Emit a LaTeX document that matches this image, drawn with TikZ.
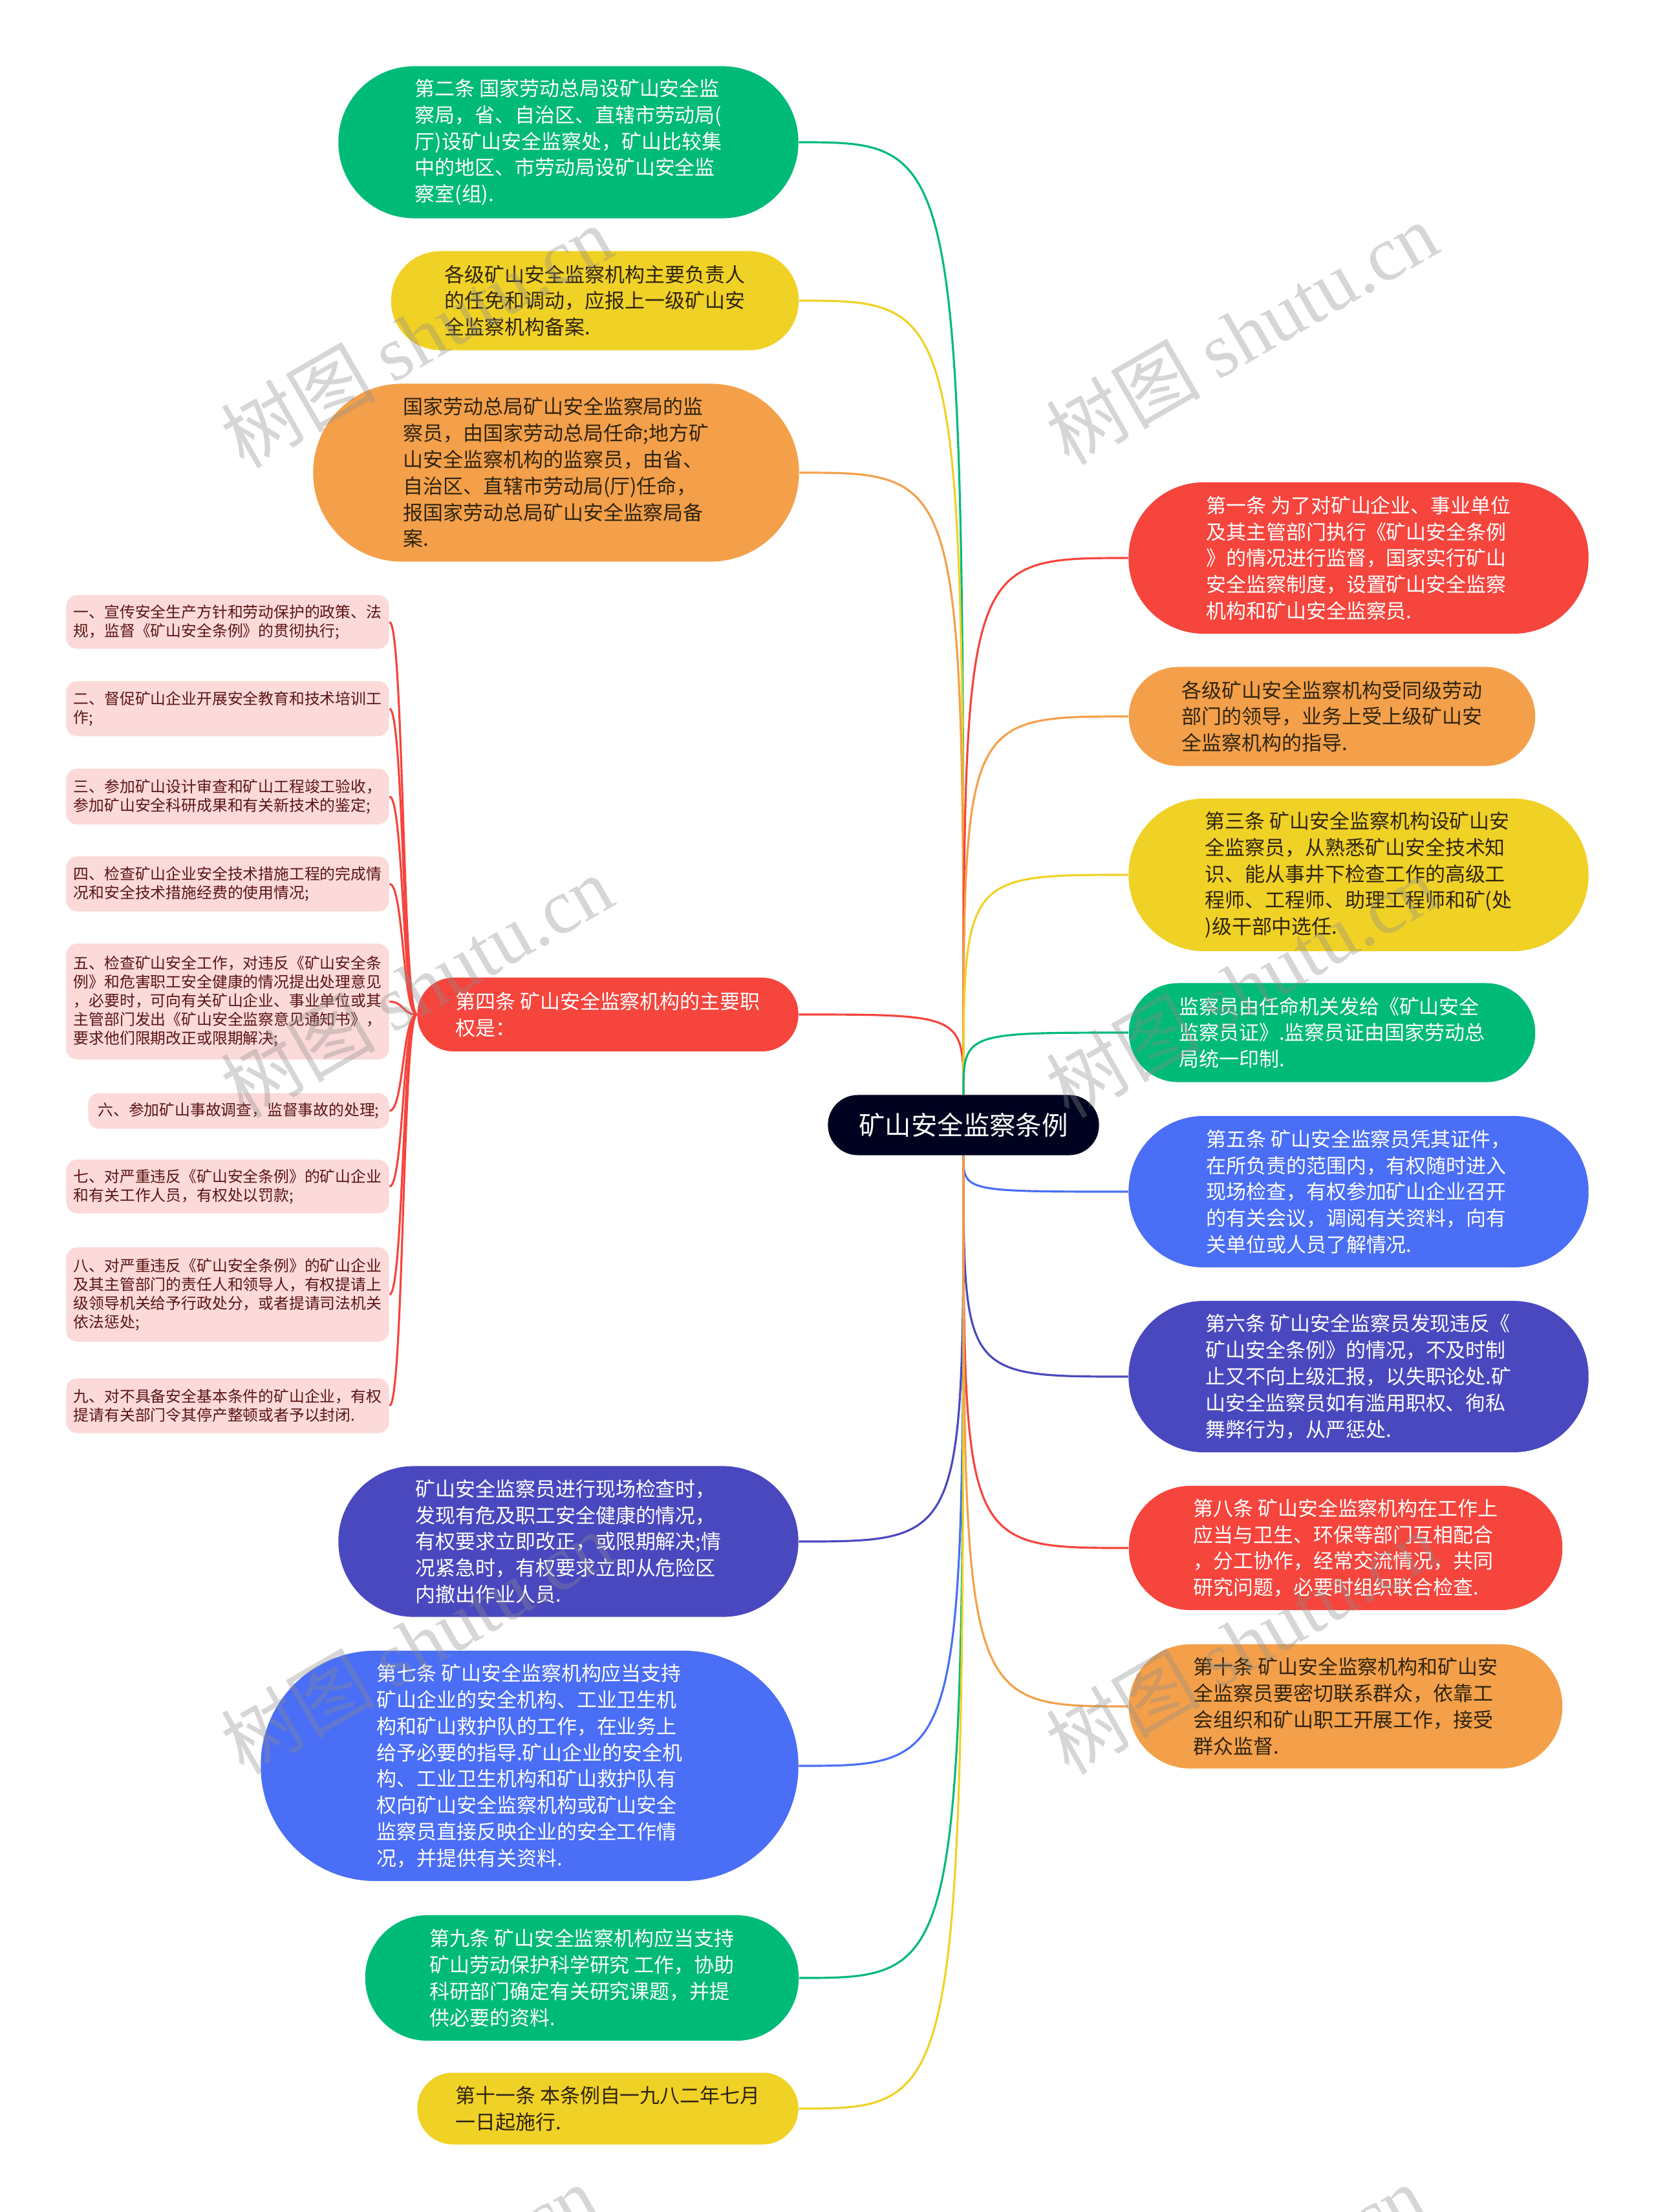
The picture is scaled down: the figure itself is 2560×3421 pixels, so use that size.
\documentclass[tikz,border=0pt]{standalone}
\usepackage{fontspec}
\setmainfont{Noto Sans CJK SC}
\newfontfamily\wmlatin{Liberation Serif}
\usetikzlibrary{backgrounds}
\definecolor{cgreen}{HTML}{00BA78}
\definecolor{cyellow}{HTML}{F0D126}
\definecolor{corange}{HTML}{F4A04A}
\definecolor{cred}{HTML}{F5453D}
\definecolor{cblue}{HTML}{4A6EF5}
\definecolor{cpurple}{HTML}{4A48BF}
\definecolor{ccenter}{HTML}{00031F}
\definecolor{cpink}{HTML}{FCDADA}
\definecolor{cpinktext}{HTML}{5B1414}
\definecolor{cdark}{HTML}{2E2410}
\tikzset{
  topic/.style={inner sep=0pt, align=left, font=\fontsize{8.8pt}{11.6pt}\selectfont},
  subitem/.style={fill=cpink, text=cpinktext, rounded corners=0.17cm, inner sep=0pt, align=left,
    font=\fontsize{6.77pt}{8.25pt}\selectfont},
  link/.style={line width=0.9pt},
  wm/.style={rotate=30, text=black!45, opacity=0.35, inner sep=0pt, font=\fontsize{34pt}{36pt}\selectfont},
}
\begin{document}
\begin{tikzpicture}[x=0.01cm, y=-0.01cm]
\useasboundingbox (0,0) rectangle (2560,3421);

% centre
\node[fill=ccenter, text=white, rounded corners=0.46cm, minimum width=4.19cm, minimum height=0.93cm,
  inner sep=0pt, font=\fontsize{11.5pt}{13pt}\selectfont] (C) at (1490,1740) {矿山安全监察条例};

% left topics
\node[topic, fill=cgreen, text=white, minimum width=7.11cm, minimum height=2.35cm, rounded corners=1.17cm] (L1) at (879,220)
 {第二条 国家劳动总局设矿山安全监\\察局，省、自治区、直辖市劳动局(\\厅)设矿山安全监察处，矿山比较集\\中的地区、市劳动局设矿山安全监\\察室(组).};
\node[topic, fill=cyellow, text=cdark, minimum width=6.30cm, minimum height=1.53cm, rounded corners=0.76cm] (L2) at (920,465)
 {各级矿山安全监察机构主要负责人\\的任免和调动，应报上一级矿山安\\全监察机构备案.};
\node[topic, fill=corange, text=cdark, minimum width=7.51cm, minimum height=2.75cm, rounded corners=1.37cm] (L3) at (860,731)
 {国家劳动总局矿山安全监察局的监\\察员，由国家劳动总局任命;地方矿\\山安全监察机构的监察员，由省、\\自治区、直辖市劳动局(厅)任命，\\报国家劳动总局矿山安全监察局备\\案.};
\node[topic, fill=cred, text=white, minimum width=5.89cm, minimum height=1.14cm, rounded corners=0.56cm] (L4) at (940,1569)
 {第四条 矿山安全监察机构的主要职\\权是：};
\node[topic, fill=cpurple, text=white, minimum width=7.11cm, minimum height=2.33cm, rounded corners=1.16cm] (L5) at (879,2384)
 {矿山安全监察员进行现场检查时，\\发现有危及职工安全健康的情况，\\有权要求立即改正，或限期解决;情\\况紧急时，有权要求立即从危险区\\内撤出作业人员.};
\node[topic, fill=cblue, text=white, minimum width=8.31cm, minimum height=3.56cm, rounded corners=1.77cm] (L6) at (819,2731)
 {第七条 矿山安全监察机构应当支持\\矿山企业的安全机构、工业卫生机\\构和矿山救护队的工作，在业务上\\给予必要的指导.矿山企业的安全机\\构、工业卫生机构和矿山救护队有\\权向矿山安全监察机构或矿山安全\\监察员直接反映企业的安全工作情\\况，并提供有关资料.};
\node[topic, fill=cgreen, text=white, minimum width=6.70cm, minimum height=1.94cm, rounded corners=0.96cm] (L7) at (900,3059)
 {第九条 矿山安全监察机构应当支持\\矿山劳动保护科学研究 工作，协助\\科研部门确定有关研究课题，并提\\供必要的资料.};
\node[topic, fill=cyellow, text=cdark, minimum width=5.89cm, minimum height=1.11cm, rounded corners=0.55cm] (L8) at (940,3261)
 {第十一条 本条例自一九八二年七月\\一日起施行.};

% right topics
\node[topic, fill=cred, text=white, minimum width=7.11cm, minimum height=2.34cm, rounded corners=1.16cm] (R1) at (2101,863)
 {第一条 为了对矿山企业、事业单位\\及其主管部门执行《矿山安全条例\\》的情况进行监督，国家实行矿山\\安全监察制度，设置矿山安全监察\\机构和矿山安全监察员.};
\node[topic, fill=corange, text=cdark, minimum width=6.28cm, minimum height=1.53cm, rounded corners=0.76cm] (R2) at (2060,1108)
 {各级矿山安全监察机构受同级劳动\\部门的领导，业务上受上级矿山安\\全监察机构的指导.};
\node[topic, fill=cyellow, text=cdark, minimum width=7.11cm, minimum height=2.36cm, rounded corners=1.17cm] (R3) at (2101,1353)
 {第三条 矿山安全监察机构设矿山安\\全监察员，从熟悉矿山安全技术知\\识、能从事井下检查工作的高级工\\程师、工程师、助理工程师和矿(处\\)级干部中选任.};
\node[topic, fill=cgreen, text=white, minimum width=6.28cm, minimum height=1.53cm, rounded corners=0.76cm] (R4) at (2060,1597)
 {监察员由任命机关发给《矿山安全\\监察员证》.监察员证由国家劳动总\\局统一印制.};
\node[topic, fill=cblue, text=white, minimum width=7.11cm, minimum height=2.34cm, rounded corners=1.16cm] (R5) at (2101,1843)
 {第五条 矿山安全监察员凭其证件，\\在所负责的范围内，有权随时进入\\现场检查，有权参加矿山企业召开\\的有关会议，调阅有关资料，向有\\关单位或人员了解情况.};
\node[topic, fill=cpurple, text=white, minimum width=7.11cm, minimum height=2.34cm, rounded corners=1.16cm] (R6) at (2101,2129)
 {第六条 矿山安全监察员发现违反《\\矿山安全条例》的情况，不及时制\\止又不向上级汇报，以失职论处.矿\\山安全监察员如有滥用职权、徇私\\舞弊行为，从严惩处.};
\node[topic, fill=cred, text=white, minimum width=6.70cm, minimum height=1.92cm, rounded corners=0.95cm] (R7) at (2081,2394)
 {第八条 矿山安全监察机构在工作上\\应当与卫生、环保等部门互相配合\\，分工协作，经常交流情况，共同\\研究问题，必要时组织联合检查.};
\node[topic, fill=corange, text=cdark, minimum width=6.70cm, minimum height=1.92cm, rounded corners=0.95cm] (R8) at (2081,2639)
 {第十条 矿山安全监察机构和矿山安\\全监察员要密切联系群众，依靠工\\会组织和矿山职工开展工作，接受\\群众监督.};

% sub items of L4
\node[subitem, minimum width=4.99cm, minimum height=0.83cm] (Sa) at (352,962)
 {一、宣传安全生产方针和劳动保护的政策、法\\规，监督《矿山安全条例》的贯彻执行;};
\node[subitem, minimum width=4.99cm, minimum height=0.85cm] (Sb) at (352,1096)
 {二、督促矿山企业开展安全教育和技术培训工\\作;};
\node[subitem, minimum width=4.99cm, minimum height=0.86cm] (Sc) at (352,1232)
 {三、参加矿山设计审查和矿山工程竣工验收，\\参加矿山安全科研成果和有关新技术的鉴定;};
\node[subitem, minimum width=4.99cm, minimum height=0.85cm] (Sd) at (352,1367)
 {四、检查矿山企业安全技术措施工程的完成情\\况和安全技术措施经费的使用情况;};
\node[subitem, minimum width=4.99cm, minimum height=1.79cm] (Se) at (352,1549)
 {五、检查矿山安全工作，对违反《矿山安全条\\例》和危害职工安全健康的情况提出处理意见\\，必要时，可向有关矿山企业、事业单位或其\\主管部门发出《矿山安全监察意见通知书》，\\要求他们限期改正或限期解决;};
\node[subitem, minimum width=4.65cm, minimum height=0.55cm] (Sf) at (369,1718)
 {六、参加矿山事故调查，监督事故的处理;};
\node[subitem, minimum width=4.99cm, minimum height=0.83cm] (Sg) at (352,1835)
 {七、对严重违反《矿山安全条例》的矿山企业\\和有关工作人员，有权处以罚款;};
\node[subitem, minimum width=4.99cm, minimum height=1.46cm] (Sh) at (352,2002)
 {八、对严重违反《矿山安全条例》的矿山企业\\及其主管部门的责任人和领导人，有权提请上\\级领导机关给予行政处分，或者提请司法机关\\依法惩处;};
\node[subitem, minimum width=4.99cm, minimum height=0.85cm] (Si) at (352,2174)
 {九、对不具备安全基本条件的矿山企业，有权\\提请有关部门令其停产整顿或者予以封闭.};

\begin{pgfonlayer}{background}
\fill[white] (0,0) rectangle (2560,3421);
% connectors to left topics
\draw[link, cgreen]  (C.north) .. controls (C.north |- L1.east) .. (L1.east);
\draw[link, cyellow] (C.north) .. controls (C.north |- L2.east) .. (L2.east);
\draw[link, corange] (C.north) .. controls (C.north |- L3.east) .. (L3.east);
\draw[link, cred]    (C.north) .. controls (C.north |- L4.east) .. (L4.east);
\draw[link, cpurple] (C.south) .. controls (C.south |- L5.east) .. (L5.east);
\draw[link, cblue]   (C.south) .. controls (C.south |- L6.east) .. (L6.east);
\draw[link, cgreen]  (C.south) .. controls (C.south |- L7.east) .. (L7.east);
\draw[link, cyellow] (C.south) .. controls (C.south |- L8.east) .. (L8.east);
% connectors to right topics
\draw[link, cred]    (C.north) .. controls (C.north |- R1.west) .. (R1.west);
\draw[link, corange] (C.north) .. controls (C.north |- R2.west) .. (R2.west);
\draw[link, cyellow] (C.north) .. controls (C.north |- R3.west) .. (R3.west);
\draw[link, cgreen]  (C.north) .. controls (C.north |- R4.west) .. (R4.west);
\draw[link, cblue]   (C.south) .. controls (C.south |- R5.west) .. (R5.west);
\draw[link, cpurple] (C.south) .. controls (C.south |- R6.west) .. (R6.west);
\draw[link, cred]    (C.south) .. controls (C.south |- R7.west) .. (R7.west);
\draw[link, corange] (C.south) .. controls (C.south |- R8.west) .. (R8.west);
% connectors to sub items
\foreach \s in {Sa,Sb,Sc,Sd,Se,Sf,Sg,Sh,Si}
  \draw[link, cred] (L4.west) .. controls +(-22,0) and +(22,0) .. (\s.east);
\end{pgfonlayer}

% watermarks
\begin{scope}
\clip (0,0) rectangle (2560,3421);
\node[wm] (w1) at (644,520)  {树图 {\wmlatin shutu.cn}};
\node[wm] (w2) at (1920,515) {树图 {\wmlatin shutu.cn}};
\node[wm] (w3) at (644,1525) {树图 {\wmlatin shutu.cn}};
\node[wm] (w4) at (1920,1525) {树图 {\wmlatin shutu.cn}};
\node[wm] (w5) at (644,2540) {树图 {\wmlatin shutu.cn}};
\node[wm] (w6) at (1920,2540) {树图 {\wmlatin shutu.cn}};
\node[wm] (w7) at (620,3550) {树图 {\wmlatin shutu.cn}};
\node[wm] (w8) at (1900,3550) {树图 {\wmlatin shutu.cn}};
\end{scope}
\end{tikzpicture}
\end{document}
